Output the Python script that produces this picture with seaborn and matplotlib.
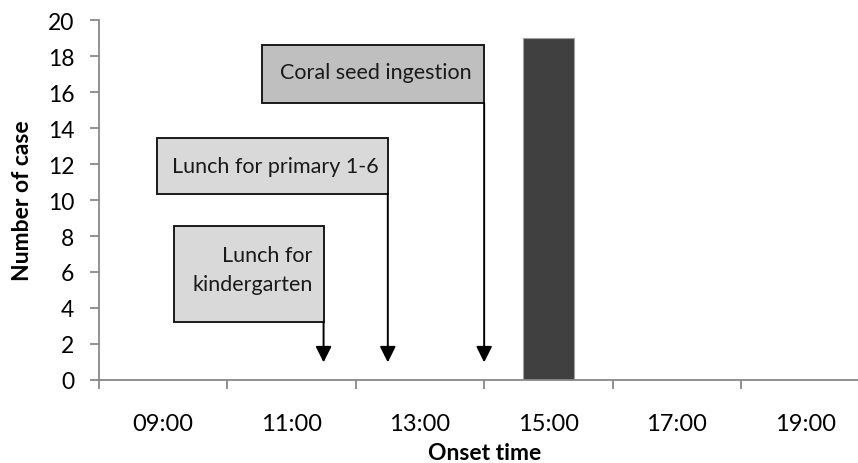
import numpy as np
import pandas as pd
import matplotlib
matplotlib.use("Agg")
import matplotlib.pyplot as plt
from matplotlib.patches import Rectangle
from matplotlib.ticker import MultipleLocator, FixedLocator
import seaborn as sns

# data
categories = ["09:00", "11:00", "13:00", "15:00", "17:00", "19:00"]
cases = [0, 0, 0, 19, 0, 0]

event_labels = ["Lunch for\nkindergarten", "Lunch for primary 1-6", "Coral seed ingestion"]
event_hours = [11.5, 12.5, 14.0]

df = pd.DataFrame({"Onset time": categories, "Number of case": cases})

sns.set_theme(style="white")
plt.rcParams["font.family"] = ["Lato", "DejaVu Sans"]

fig = plt.figure(figsize=(8.58, 4.64), dpi=100)
ax = fig.add_axes([0.1151, 0.1789, 0.8849, 0.7758])

sns.barplot(data=df, x="Onset time", y="Number of case", order=categories,
            color="#404040", width=0.4, edgecolor="#a0a0a0", linewidth=0.8,
            saturation=1, ax=ax)

# category axis: hour -> position (09:00 is 0, 2 h per category)
def hour_pos(h):
    return (h - 9) / 2.0

ax.set_xlim(-0.5, 5.41)
ax.set_ylim(0, 20)

# box layout: (left, bottom, top, fill, text x, text y, ha)
boxes = [
    (0.085, 3.22, 8.53, "#d9d9d9", 1.166, 6.15, "right"),
    (-0.05, 10.36, 13.44, "#d9d9d9", 0.872, 11.9, "center"),
    (0.767, 15.39, 18.63, "#bfbfbf", 1.655, 17.13, "center"),
]
for lab, hr, (left, bot, top, fill, tx, ty, ha) in zip(event_labels, event_hours, boxes):
    right = hour_pos(hr)
    ax.add_patch(Rectangle((left, bot), right - left, top - bot, facecolor=fill,
                           edgecolor="#1a1a1a", lw=1.4, zorder=4, clip_on=False))
    ax.text(tx, ty, lab, ha=ha, va="center", fontsize=15.5, color="#1a1a1a",
            linespacing=1.55, zorder=5)
    ax.annotate("", xy=(right, 0.98), xytext=(right, bot),
                arrowprops=dict(arrowstyle="-|>", color="black", lw=1.4,
                                mutation_scale=24, shrinkA=0, shrinkB=0),
                zorder=5)

# spines / ticks, excel look
for s in ["top", "right"]:
    ax.spines[s].set_visible(False)
for s in ["left", "bottom"]:
    ax.spines[s].set_color("#888888")
    ax.spines[s].set_linewidth(1.3)

ax.yaxis.set_major_locator(MultipleLocator(2))
ax.tick_params(axis="y", which="major", direction="out", length=6.5, width=1.3,
               color="#888888", labelsize=16.5, pad=11, labelcolor="black", left=True)

ax.xaxis.set_major_locator(FixedLocator(np.arange(-0.5, 6, 1.0)))
ax.xaxis.set_minor_locator(FixedLocator(np.arange(len(categories))))
ax.set_xticklabels([], minor=False)
ax.set_xticklabels(categories, minor=True)
ax.tick_params(axis="x", which="major", direction="out", length=6.5, width=1.3,
               color="#888888", bottom=True)
ax.tick_params(axis="x", which="minor", length=0, labelsize=17, pad=24,
               labelcolor="black", bottom=True)

ax.set_xlabel("Onset time", fontsize=16.5, fontweight="bold", color="black")
ax.set_ylabel("Number of case", fontsize=16.5, fontweight="bold", color="black")
ax.xaxis.set_label_coords(0.508, -0.172)
ax.yaxis.set_label_coords(-0.087, 0.5)

fig.savefig("out.png", dpi=100)
